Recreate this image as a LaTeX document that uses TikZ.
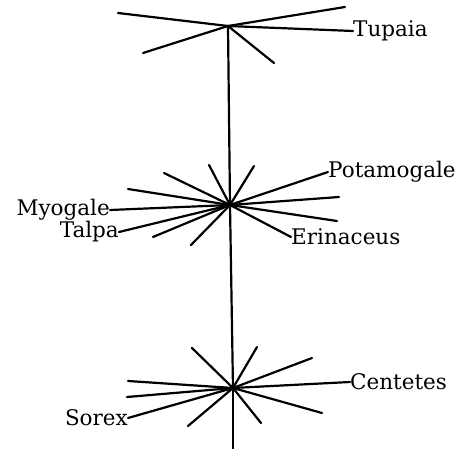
\documentclass[tikz,border=0pt]{standalone}
\usepackage{fontspec}
\setmainfont{DejaVu Serif}
\begin{document}
\begin{tikzpicture}[x=1pt,y=-1pt,
  ray/.style={line width=2.2pt,line cap=round},
  lbl/.style={inner sep=0pt,font=\fontsize{21.5}{21.5}\selectfont}]
\useasboundingbox (0,0) rectangle (461,449);
% centres
\coordinate (t) at (228,26);
\coordinate (m) at (230,205);
\coordinate (b) at (233,388);
% labels
\node[lbl,anchor=west] (tupaia) at (353,31) {Tupaia};
\node[lbl,anchor=west] (potamogale) at (328,172) {Potamogale};
\node[lbl,anchor=east] (myogale) at (110,210) {Myogale};
\node[lbl,anchor=east] (talpa) at (119,232) {Talpa};
\node[lbl,anchor=west] (erinaceus) at (291,237) {Erinaceus};
\node[lbl,anchor=west] (centetes) at (350,382) {Centetes};
\node[lbl,anchor=east] (sorex) at (128,418) {Sorex};
% trunk
\draw[ray] (t) -- (m) -- (b);
\coordinate (bend) at (233,449);
\draw[ray] (b) -- (bend);
% top cluster
\foreach \p in {(118,13),(143,53),(345,7),(274,63)} \draw[ray] (t) -- \p;
\draw[ray] (t) -- (tupaia.west);
% middle cluster
\foreach \p in {(209,165),(254,166),(164,173),(128,189),(153,237),(191,245),(337,221),(339,197)} \draw[ray] (m) -- \p;
\draw[ray] (m) -- (potamogale.west);
\draw[ray] (m) -- (myogale.east);
\draw[ray] (m) -- (talpa.east);
\draw[ray] (m) -- (erinaceus.west);
% bottom cluster
\foreach \p in {(192,348),(257,347),(312,358),(322,413),(261,423),(188,426),(127,397),(128,381)} \draw[ray] (b) -- \p;
\draw[ray] (b) -- (centetes.west);
\draw[ray] (b) -- (sorex.east);
\end{tikzpicture}
\end{document}
